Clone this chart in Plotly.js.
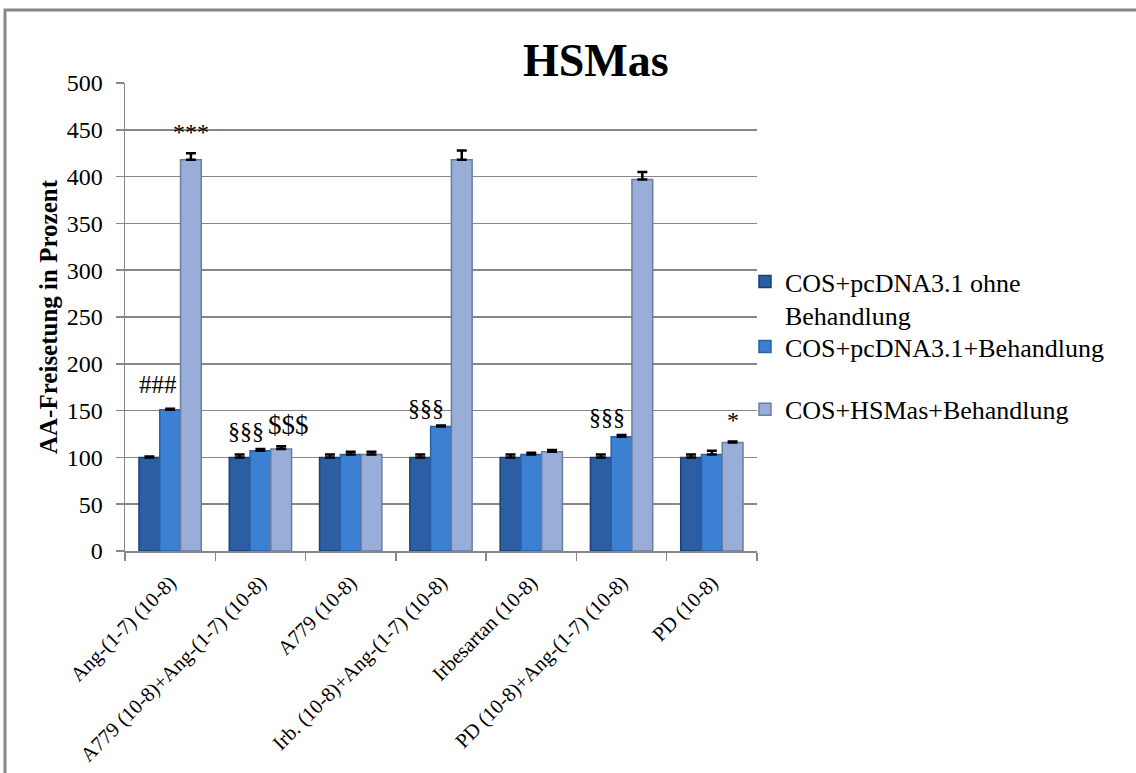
<!DOCTYPE html>
<html>
<head>
<meta charset="utf-8">
<script src="https://cdn.plot.ly/plotly-3.0.1.min.js"></script>
<style>
  html, body { margin: 0; padding: 0; background: #ffffff; }
  #chart { width: 1136px; height: 773px; }
</style>
</head>
<body>
<div id="chart"></div>
<script>
// Treatment groups (x axis)
const categories = [
  'Ang-(1-7) (10-8)',
  'A779 (10-8)+Ang-(1-7) (10-8)',
  'A779 (10-8)',
  'Irb. (10-8)+Ang-(1-7) (10-8)',
  'Irbesartan (10-8)',
  'PD (10-8)+Ang-(1-7) (10-8)',
  'PD (10-8)'
];

// Series names
const seriesNames = [
  'COS+pcDNA3.1 ohne<br>Behandlung',
  'COS+pcDNA3.1+Behandlung',
  'COS+HSMas+Behandlung'
];

// AA-Freisetzung in % with upper error (SEM)
const pcdnaOhne       = [100, 100, 100, 100, 100, 100, 100];
const pcdnaOhneErr    = [1, 3, 3, 3, 3, 3, 3];
const pcdnaBeh        = [151, 107, 103, 133, 103, 122, 103];
const pcdnaBehErr     = [1, 2, 3, 1, 2, 2, 4];
const hsmasBeh        = [418, 109, 103, 418, 106, 397, 116];
const hsmasBehErr     = [7, 3, 3, 10, 2, 8, 1];

// Significance marks: [category index, series index, symbol]
const marks = [
  [0, 1, '###'],
  [0, 2, '***'],
  [1, 1, '§§§'],
  [1, 2, '$$$'],
  [3, 1, '§§§'],
  [5, 1, '§§§'],
  [6, 2, '*']
];

const values = [pcdnaOhne, pcdnaBeh, hsmasBeh];
const errors = [pcdnaOhneErr, pcdnaBehErr, hsmasBehErr];
const fills  = ['#2b5ea3', '#3b80d2', '#98aed8'];
const edges  = ['#1b3f73', '#2a62a8', '#6c7c9e'];
const legendIds = ['legend', 'legend2', 'legend3'];

const serif = 'Liberation Serif, Times New Roman, serif';
const W = 1136, H = 773;
const M = { l: 125, r: 379, t: 83, b: 222 };
const bargap = 0.31;

const traces = values.map((v, i) => ({
  type: 'bar',
  name: seriesNames[i],
  x: categories,
  y: v,
  legend: legendIds[i],
  showlegend: true,
  marker: { color: fills[i], line: { color: edges[i], width: 1.5 } },
  error_y: {
    type: 'data',
    symmetric: false,
    array: errors[i],
    arrayminus: errors[i].map(() => 0),
    color: '#000000',
    thickness: 2.5,
    width: 5
  },
  hoverinfo: 'x+y+name'
}));

// pixel width of a single bar, used to place the marks over their bar
const plotW = W - M.l - M.r;
const barW = plotW / categories.length * (1 - bargap) / 3;

const markStyle = {
  '###': { size: 25, dx: -0.6, dy: 9 },
  '***': { size: 24, dx: 0, dy: 6 },
  '§§§': { size: 24, dx: -0.7, dy: 3 },
  '$$$': { size: 27, dx: 0.35, dy: 4 },
  '*':   { size: 24, dx: 0, dy: 6 }
};

const annotations = marks.map(([c, s, txt]) => ({
  x: categories[c],
  y: values[s][c] + errors[s][c],
  xref: 'x', yref: 'y',
  text: txt,
  showarrow: false,
  xanchor: 'center', yanchor: 'bottom',
  xshift: (s - 1 + markStyle[txt].dx) * barW,
  yshift: markStyle[txt].dy,
  font: { family: serif, size: markStyle[txt].size, color: '#000000' }
}));

const legendBase = {
  x: 0.981, xanchor: 'left', yanchor: 'top',
  bgcolor: 'rgba(0,0,0,0)', borderwidth: 0,
  valign: 'top', itemwidth: 30,
  font: { family: serif, size: 26, color: '#000000' }
};

const layout = {
  width: W, height: H,
  margin: M,
  paper_bgcolor: '#ffffff',
  plot_bgcolor: '#ffffff',
  barmode: 'group',
  bargap: bargap,
  bargroupgap: 0,
  showlegend: true,
  title: {
    text: '<b>HSMas</b>',
    font: { family: serif, size: 46, color: '#000000' },
    x: 0.745, xref: 'paper', xanchor: 'center',
    y: 1 - 60 / H, yref: 'container', yanchor: 'middle'
  },
  xaxis: {
    type: 'category',
    tickson: 'boundaries',
    ticks: 'outside', ticklen: 8, tickwidth: 1.5, tickcolor: '#878787',
    showline: true, linecolor: '#878787', linewidth: 1.5,
    showgrid: false,
    tickangle: -45,
    ticklabelstandoff: 10,
    tickfont: { family: serif, size: 20.5, color: '#000000' },
    automargin: false
  },
  yaxis: {
    range: [0, 500], dtick: 50,
    ticks: 'outside', ticklen: 8, tickwidth: 1.5, tickcolor: '#878787',
    showline: true, linecolor: '#878787', linewidth: 1.5,
    showgrid: true, gridcolor: '#878787', gridwidth: 1.5,
    zeroline: false,
    ticklabelstandoff: 8,
    tickfont: { family: serif, size: 24, color: '#000000' },
    title: {
      text: '<b>AA-Freisetung in Prozent</b>',
      font: { family: serif, size: 25, color: '#000000' },
      standoff: 2
    },
    automargin: false
  },
  legend:  Object.assign({}, legendBase, { y: 0.626 }),
  legend2: Object.assign({}, legendBase, { y: 0.487 }),
  legend3: Object.assign({}, legendBase, { y: 0.353 }),
  annotations: annotations,
  shapes: [{
    type: 'rect', xref: 'paper', yref: 'paper',
    x0: (5 - M.l) / plotW, x1: 2,
    y0: -1, y1: (H - M.b - 10) / (H - M.t - M.b),
    line: { color: '#878787', width: 3 },
    fillcolor: 'rgba(0,0,0,0)',
    layer: 'below'
  }]
};

Plotly.newPlot('chart', traces, layout, { displayModeBar: false, staticPlot: true });
</script>
</body>
</html>
